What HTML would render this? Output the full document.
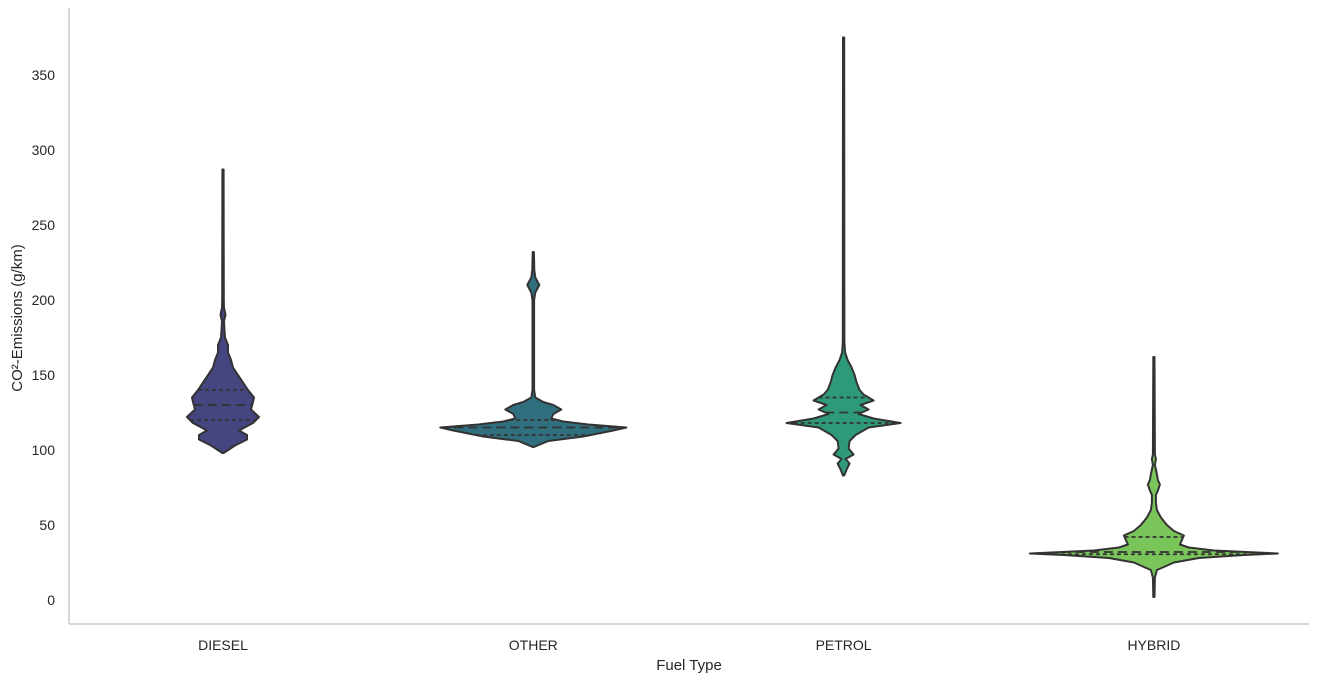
<!DOCTYPE html>
<html><head><meta charset="utf-8"><style>
body{margin:0;background:#fff;}
svg{display:block;font-family:"Liberation Sans",sans-serif;}
</style></head><body>
<svg id="chart" width="1319" height="683">
<line x1="69" y1="8" x2="69" y2="624" stroke="#cccccc" stroke-width="1.5"/>
<line x1="69" y1="624" x2="1309" y2="624" stroke="#cccccc" stroke-width="1.5"/>
<g id="yticks"></g>
<g id="xticks"></g>
<g id="violins"></g>
<text x="689" y="670" text-anchor="middle" font-size="15" fill="#262626">Fuel Type</text>
<text transform="translate(22,318) rotate(-90)" text-anchor="middle" font-size="15" fill="#262626">CO²-Emissions (g/km)</text>
</svg>
<script>
const categories = ["DIESEL","OTHER","PETROL","HYBRID"];
const colors = ["#45457f","#2f6f7e","#2e9a7a","#7ac55a"];
const yTicks = [0,50,100,150,200,250,300,350];
const dieselVals = [98,103,107,110,113,118,122,127,132,135,140,145,150,155,160,165,170,175,180,186,190,195,200,287];
const dieselDens = [0,12,24,24,16,30,36,28,30,31,25,20,15,10,8,5,5,2,1.5,1,2.5,1,0.8,0];
const otherVals = [102,106,109,111,113,115,117,119,121,124,127,130,132,135,140,200,205,210,215,220,232];
const otherDens = [0,15,50,65,80,93,55,30,18,20,28,20,10,2,0.8,0.8,2,6,2,1,0];
const petrolVals = [83,87,91,94,97,101,106,110,115,118,121,124,127,130,133,137,140,145,150,155,160,165,172,375];
const petrolDens = [0,3,6,2,10,5,6,12,25,57,30,15,25,17,30,20,16,13,11,8,4,1.5,0.8,0];
const hybridVals = [2,15,20,22,25,28,30,31,33,35,37,40,43,46,50,55,60,65,70,73,77,80,84,90,94,97,162];
const hybridDens = [0,1,3,10,20,45,90,124,60,35,26,28,30,20,13,7,3,2,2,4,6,4,3,1,2,1,0];
const quartiles = [[120,130,140],[110,115,120],[118,125,135],[30.5,32,42]];
const vals=[dieselVals,otherVals,petrolVals,hybridVals];
const dens=[dieselDens,otherDens,petrolDens,hybridDens];
const NS="http://www.w3.org/2000/svg";
const yS=v=>600-v*1.5;
const xS=i=>223+i*310.3;
const yt=document.getElementById('yticks');
yTicks.forEach(t=>{const e=document.createElementNS(NS,'text');


e.setAttribute('x',55);e.setAttribute('y',yS(t)+5);e.setAttribute('text-anchor','end');e.setAttribute('font-size','14');e.setAttribute('fill','#262626');e.textContent=t;yt.appendChild(e);});
const xt=document.getElementById('xticks');
categories.forEach((c,i)=>{const e=document.createElementNS(NS,'text');


e.setAttribute('x',xS(i));e.setAttribute('y',650);e.setAttribute('text-anchor','middle');e.setAttribute('font-size','14');e.setAttribute('fill','#262626');e.textContent=c;xt.appendChild(e);});
const vg=document.getElementById('violins');
function halfAt(i,v){const a=vals[i],d=dens[i];for(let k=0;k<a.length-1;k++){if(v>=a[k]&&v<=a[k+1]){const t=(v-a[k])/(a[k+1]-a[k]);return d[k]+t*(d[k+1]-d[k]);}}return 0;}
categories.forEach((c,i)=>{
  const cx=xS(i),a=vals[i],d=dens[i];
  let r=[],l=[];
  a.forEach((v,k)=>{const w=Math.max(d[k],0.6);r.push((cx+w).toFixed(1)+','+yS(v).toFixed(1));l.unshift((cx-w).toFixed(1)+','+yS(v).toFixed(1));});
  const p=document.createElementNS(NS,'polygon');
  
  
  p.setAttribute('points',r.concat(l).join(' '));
  p.setAttribute('fill',colors[i]);p.setAttribute('stroke','#333');p.setAttribute('stroke-width','2');p.setAttribute('stroke-linejoin','round');
  vg.appendChild(p);
  quartiles[i].forEach((q,j)=>{const w=halfAt(i,q);const ln=document.createElementNS(NS,'line');
    
    
    ln.setAttribute('x1',cx-w);ln.setAttribute('x2',cx+w);ln.setAttribute('y1',yS(q));ln.setAttribute('y2',yS(q));
    ln.setAttribute('stroke','#333');ln.setAttribute('stroke-width','1.8');ln.setAttribute('stroke-dasharray',j==1?'9,5':'4,3');vg.appendChild(ln);});
});
</script>
</body></html>
